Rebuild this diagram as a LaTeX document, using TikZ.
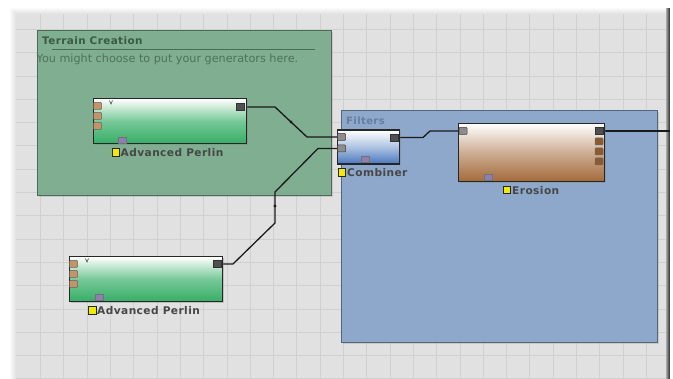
\documentclass[tikz,border=0pt]{standalone}
\usepackage{fontspec}
\setmainfont{DejaVu Sans}
\newfontfamily\labfont[LetterSpace=4]{DejaVu Sans}
\usetikzlibrary{shadows}
\definecolor{canvasc}{HTML}{E1E1E1}
\definecolor{gridc}{HTML}{D0D0D0}
\definecolor{tcfill}{HTML}{7AAD8C}
\definecolor{tcdraw}{HTML}{4C6B57}
\definecolor{tctitle}{HTML}{3A5A44}
\definecolor{tcsub}{HTML}{4E725A}
\definecolor{flfill}{HTML}{8AA7CB}
\definecolor{fldraw}{HTML}{55657C}
\definecolor{fltitle}{HTML}{667EA0}
\definecolor{gengreen}{HTML}{36AE66}
\definecolor{combblue}{HTML}{4677BE}
\definecolor{erobrown}{HTML}{A36A3A}
\definecolor{porttan}{HTML}{C49468}
\definecolor{portdark}{HTML}{505050}
\definecolor{portpurple}{HTML}{8E7FB2}
\definecolor{labyellow}{HTML}{F2EA00}
\definecolor{wirec}{HTML}{1A1A1A}
\pgfdeclarelayer{grp}
\pgfdeclarelayer{lines}
\pgfsetlayers{grp,lines,main}
\tikzset{
  groupbox/.style={anchor=north west, inner sep=0pt, line width=0.9pt},
  blockbox/.style={anchor=north west, inner sep=0pt, draw=black!85, line width=1.4pt,
    top color=white, drop shadow={opacity=0.35, shadow xshift=1.2pt, shadow yshift=-1.2pt}},
  genbox/.style={blockbox, bottom color=gengreen, middle color=gengreen!68!white,
    minimum width=153pt, minimum height=45pt},
  inport/.style={draw=black!60, fill=porttan, line width=0.5pt, inner sep=0pt,
    minimum width=8pt, minimum height=7pt, rounded corners=0.8pt},
  outport/.style={draw=black!80, fill=portdark, line width=0.5pt, inner sep=0pt,
    minimum width=8pt, minimum height=7pt},
  ctlport/.style={draw=black!55, fill=portpurple, line width=0.5pt, inner sep=0pt,
    minimum width=8pt, minimum height=6pt},
  labsq/.style={draw=black!85, fill=labyellow, line width=0.8pt, inner sep=0pt,
    minimum size=7.5pt},
  labtext/.style={anchor=west, inner sep=0pt, font=\labfont\fontsize{10.6}{12}\selectfont\bfseries,
    text=black!72},
  wire/.style={draw=wirec, line width=1.3pt},
  wdot/.style={circle, fill=wirec, inner sep=0pt, minimum size=3.2pt},
  vmark/.style={draw=black!70, line width=0.6pt}
}
\begin{document}
\begin{tikzpicture}[x=1pt,y=-1pt]
\useasboundingbox (0,0) rectangle (673,379);
\begin{pgfonlayer}{grp}
  % page and canvas
  \fill[white] (0,0) rectangle (673,379);
  \fill[canvasc] (10,8) rectangle (670,379);
  \foreach \gx in {40.5,63.8,...,670} \draw[gridc, line width=0.7pt] (\gx,8) -- (\gx,379);
  \foreach \gy in {29.3,52.6,...,379} \draw[gridc, line width=0.7pt] (10,\gy) -- (670,\gy);
  \foreach \k/\m in {0/85,1/70,2/55,3/40,4/25,5/12} {
    \fill[white!\m!canvasc] (10+\k,8+\k) rectangle (11+\k,379);
    \fill[white!\m!canvasc] (10+\k,8+\k) rectangle (666,9+\k);
  }
  \foreach \k/\m in {0/70,1/55,2/40,3/25} {
    \fill[black!\m!canvasc] (669-\k,8) rectangle (670-\k,379);
  }
  % groups
  \node[groupbox, draw=tcdraw, fill=tcfill, fill opacity=0.93, minimum width=294pt, minimum height=165pt,
    drop shadow={opacity=0.25, shadow xshift=1.5pt, shadow yshift=-1.5pt}] (tc) at (37,30) {};
  \node[anchor=west, inner sep=0pt, text=tctitle, font=\labfont\fontsize{10.4}{12}\selectfont\bfseries] (tctitle) at (42,40.5) {Terrain Creation};
  \draw[tcdraw, line width=0.8pt] (52,49) -- (315,49);
  \node[anchor=west, inner sep=0pt, text=tcsub, font=\fontsize{11.2}{12}\selectfont] (tcsub) at (36.5,59) {You might choose to put your generators here.};
  \node[groupbox, draw=fldraw, fill=flfill, fill opacity=0.95, minimum width=316pt, minimum height=232pt,
    drop shadow={opacity=0.25, shadow xshift=1.5pt, shadow yshift=-1.5pt}] (fl) at (341,110) {};
  \node[anchor=west, inner sep=0pt, text=fltitle, font=\labfont\fontsize{10}{11}\selectfont\bfseries] (fltitle) at (346,120.5) {Filters};
\end{pgfonlayer}

% ---- Advanced Perlin 1
\node[genbox] (ap1) at (93,98) {};
\node[inport] (ap1i1) at (97.5,106) {};
\node[inport] (ap1i2) at (97.5,116) {};
\node[inport] (ap1i3) at (97.5,126) {};
\draw[vmark] (109.5,100.5) -- (111,104) -- (112.5,100.5);
\node[outport] (ap1o) at (240,107) {};
\node[ctlport] (ap1c) at (122,140) {};
\node[labsq] (ap1sq) at (116,152.5) {};
\node[labtext] (ap1lab) at (120.5,153) {Advanced Perlin};

% ---- Advanced Perlin 2
\node[genbox] (ap2) at (69,256) {};
\node[inport] (ap2i1) at (73.5,264) {};
\node[inport] (ap2i2) at (73.5,274) {};
\node[inport] (ap2i3) at (73.5,284) {};
\draw[vmark] (85.5,258.5) -- (87,262) -- (88.5,258.5);
\node[outport] (ap2o) at (217,264) {};
\node[ctlport] (ap2c) at (99.5,297.5) {};
\node[labsq] (ap2sq) at (92.5,310.5) {};
\node[labtext] (ap2lab) at (97,311) {Advanced Perlin};

% ---- Combiner
\node[blockbox, bottom color=combblue, middle color=combblue!45!white,
  minimum width=62pt, minimum height=34pt] (comb) at (337,129.5) {};
\node[inport, fill=black!45, draw=black!75] (ci1) at (341.5,137) {};
\node[inport, fill=black!45, draw=black!75] (ci2) at (341.5,148.5) {};
\node[outport] (co) at (394,137.5) {};
\node[ctlport] (cc) at (365,159.5) {};
\node[labsq] (csq) at (342,172.5) {};
\node[labtext] (clab) at (347,173) {Combiner};

% ---- Erosion
\node[blockbox, bottom color=erobrown, middle color=erobrown!55!white,
  minimum width=146pt, minimum height=58pt] (ero) at (458,123) {};
\node[inport, fill=black!45, draw=black!75] (ei) at (463,131) {};
\node[outport] (eo) at (599,131) {};
\node[inport, fill=erobrown!85!black] (ep2) at (599,141.5) {};
\node[inport, fill=erobrown!85!black] (ep3) at (599,151.5) {};
\node[inport, fill=erobrown!85!black] (ep4) at (599,161.5) {};
\node[ctlport] (ec) at (488,177) {};
\node[labsq] (esq) at (507,190) {};
\node[labtext] (elab) at (512,190.5) {Erosion};

\coordinate (edge) at (670,131);

% ---- wires
\begin{pgfonlayer}{lines}
  \draw[wire] (ap1o.center) -- (275,107) -- (307,137) -- (ci1.center);
  \node[wdot] (d1) at (291,122) {};
  \draw[wire] (ap2o.center) -- (233,264) -- (275,223) -- (275,192) -- (318,148.5) -- (ci2.center);
  \node[wdot] (d2) at (275,206) {};
  \draw[wire] (co.center) -- (423,137.5) -- (430,131) -- (ei.center);
  \draw[wire] (eo.center) -- (edge);
\end{pgfonlayer}
\end{tikzpicture}
\end{document}
